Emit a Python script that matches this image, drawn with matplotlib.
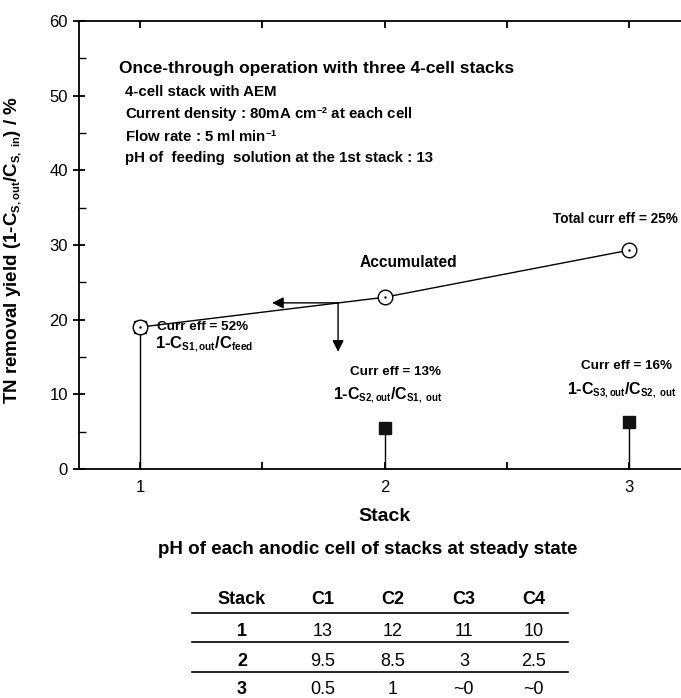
import matplotlib.pyplot as plt
from matplotlib.lines import Line2D
import matplotlib._mathtext as mathtext_internal

plt.rcParams['font.family'] = ['Liberation Sans', 'DejaVu Sans']
plt.rcParams['mathtext.fontset'] = 'custom'
plt.rcParams['mathtext.rm'] = 'Liberation Sans:bold'
plt.rcParams['mathtext.it'] = 'Liberation Sans:bold'
plt.rcParams['mathtext.bf'] = 'Liberation Sans:bold'
# smaller sub/superscripts, like the original figure
mathtext_internal.SHRINK_FACTOR = 0.6

# data
stacks = [1, 2, 3]
accumulated = [19.0, 23.0, 29.3]
single = [19.0, 5.5, 6.3]

table_cols = ['Stack', 'C1', 'C2', 'C3', 'C4']
table_rows = [['1', '13', '12', '11', '10'],
              ['2', '9.5', '8.5', '3', '2.5'],
              ['3', '0.5', '1', '~0', '~0']]

W, H = 681, 698
fig = plt.figure(figsize=(W / 100, H / 100), dpi=100)
ax = fig.add_axes([79 / W, 1 - 469 / H, 602 / W, 448 / H])

# stems and single-stack squares
for x, y in zip(stacks, single):
    ax.plot([x, x], [0, y], color='black', lw=1.0, zorder=2)
ax.plot(stacks, single, 's', color='#111111', ms=9, zorder=3)

# accumulated line with open circles
ax.plot(stacks, accumulated, '-', color='black', lw=1.0, zorder=4)
ax.plot(stacks, accumulated, 'o', mfc='white', mec='black', mew=1.0, ms=10.5, zorder=5)
ax.plot(stacks, accumulated, '.', color='black', ms=1.5, zorder=6)

# arrows from the accumulated line
arrow_from = (1.81, 22.25)
ax.annotate('', xy=(1.54, 22.25), xytext=arrow_from,
            arrowprops=dict(arrowstyle='-|>', color='black', lw=1.0,
                            mutation_scale=17, shrinkA=0, shrinkB=0))
ax.annotate('', xy=(1.81, 15.7), xytext=arrow_from,
            arrowprops=dict(arrowstyle='-|>', color='black', lw=1.0,
                            mutation_scale=17, shrinkA=0, shrinkB=0))

ax.set_xlim(0.75, 3.213)
ax.set_ylim(0, 60)
ax.set_xticks([1, 2, 3])
ax.set_xticks([1.5, 2.5], minor=True)
ax.set_yticks(range(0, 61, 10))
ax.set_yticks(range(5, 60, 10), minor=True)
ax.spines['right'].set_visible(False)
for s in ['left', 'bottom', 'top']:
    ax.spines[s].set_linewidth(1.3)
ax.tick_params(axis='y', which='major', direction='inout', length=9, width=1.3, labelsize=12)
ax.tick_params(axis='y', which='minor', direction='in', length=5, width=1.0)
ax.tick_params(axis='x', which='both', direction='in', length=5, width=1.3,
               top=True, labelsize=12, pad=8)

ax.set_xlabel('Stack', fontsize=14, fontweight='bold')
ax.xaxis.set_label_coords(0.508, -0.087)
ax.set_ylabel(r'TN removal yield (1-C$_{S,out}$/C$_{S,\ in}$) / %', fontsize=13.5,
              fontweight='bold')
ax.yaxis.set_label_coords(-0.092, 0.489)

# annotations
ax.text(0.914, 53.7, 'Once-through operation with three 4-cell stacks',
        fontsize=12.5, fontweight='bold', va='center')
info = ['4-cell stack with AEM',
        r'Current density : 80mA cm$^{-2}$ at each cell',
        r'Flow rate : 5 ml min$^{-1}$',
        'pH of  feeding  solution at the 1st stack : 13']
for yy, t in zip([50.5, 47.4, 44.5, 41.6], info):
    ax.text(0.939, yy, t, fontsize=10.8, fontweight='bold', va='center')

ax.text(2.689, 33.5, 'Total curr eff = 25%', fontsize=9.8, fontweight='bold', va='center')
ax.text(1.90, 27.7, 'Accumulated', fontsize=11.2, fontweight='bold', va='center')

ax.text(1.07, 19.0, 'Curr eff = 52%', fontsize=9.7, fontweight='bold', va='center')
ax.text(1.061, 16.7, r'1-C$_{S1,out}$/C$_{feed}$', fontsize=12, fontweight='bold',
        va='center')

ax.text(2.043, 13.0, 'Curr eff = 13%', fontsize=9.7, fontweight='bold', va='center',
        ha='center')
ax.text(2.014, 9.9, r'1-C$_{S2,out}$/C$_{S1,\ out}$', fontsize=11.5, fontweight='bold',
        va='center', ha='center')

ax.text(2.988, 13.8, 'Curr eff = 16%', fontsize=9.7, fontweight='bold', va='center',
        ha='center')
ax.text(2.969, 10.6, r'1-C$_{S3,out}$/C$_{S2,\ out}$', fontsize=11.5, fontweight='bold',
        va='center', ha='center')

# pH table below the chart
fig.text(368 / W, 1 - 550 / H, 'pH of each anodic cell of stacks at steady state',
         fontsize=13.5, fontweight='bold', ha='center', va='center')
col_x = [242, 323, 393, 464, 534]
row_y = [631, 661, 690]
for cx, c in zip(col_x, table_cols):
    fig.text(cx / W, 1 - 600 / H, c, fontsize=13, fontweight='bold',
             ha='center', va='center')
for ry, row in zip(row_y, table_rows):
    for i, (cx, v) in enumerate(zip(col_x, row)):
        fig.text(cx / W, 1 - ry / H, v, fontsize=13,
                 fontweight='bold' if i == 0 else 'normal', ha='center', va='center')
for ly in [613, 642, 672]:
    fig.add_artist(Line2D([192 / W, 568 / W], [1 - ly / H, 1 - ly / H],
                          color='black', lw=1.2))

fig.savefig('out.png', dpi=100)
